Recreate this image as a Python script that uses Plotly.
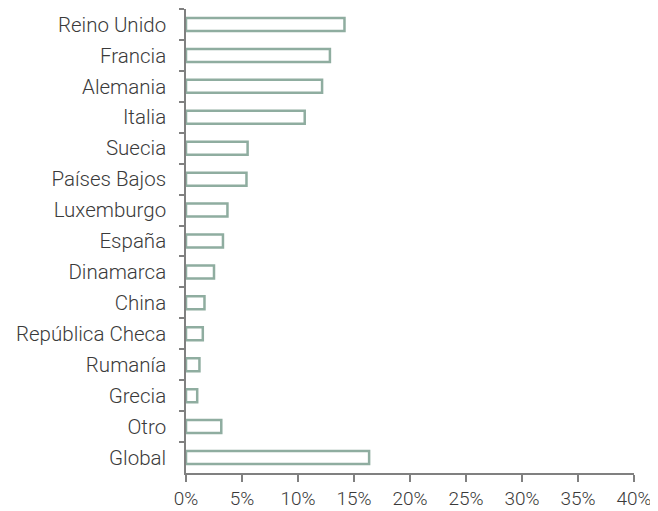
import plotly.graph_objects as go

categories = ["Reino Unido", "Francia", "Alemania", "Italia", "Suecia", "Países Bajos",
              "Luxemburgo", "España", "Dinamarca", "China", "República Checa", "Rumanía",
              "Grecia", "Otro", "Global"]
values = [14.15, 12.85, 12.15, 10.6, 5.5, 5.4, 3.7, 3.3, 2.5, 1.65, 1.5, 1.2, 1.0, 3.15, 16.35]
x_ticks = [0, 5, 10, 15, 20, 25, 30, 35, 40]
x_tick_labels = [f"{t}%" for t in x_ticks]

fig = go.Figure(go.Bar(
    y=categories, x=values, orientation="h",
    marker=dict(color="white", line=dict(color="#8FADA0", width=2.5)),
    width=0.42,
))

xfont = dict(family="Roboto", size=19, color="#3A3A3A", weight=300)
yfont = dict(family="Roboto", size=20.5, color="#3A3A3A", weight=300)
fig.update_layout(
    width=650, height=503,
    margin=dict(l=178, r=24, t=1, b=38, autoexpand=False),
    paper_bgcolor="white", plot_bgcolor="white",
    showlegend=False,
    font=xfont,
    xaxis=dict(range=[0, 40], tickvals=x_ticks, ticktext=x_tick_labels,
               showgrid=False, zeroline=False, showline=True, linecolor="#808080",
               linewidth=1.5, ticks="outside", ticklen=7, tickcolor="#808080", tickwidth=1.5,
               tickfont=xfont, automargin=False),
    yaxis=dict(autorange="reversed", showgrid=False, showline=True, linecolor="#808080",
               linewidth=1.5, ticks="outside", ticklen=5, tickcolor="#808080", tickwidth=1.5,
               tickson="boundaries", tickfont=yfont, ticklabelstandoff=14, automargin=False),
)
fig.write_html("out.html")
